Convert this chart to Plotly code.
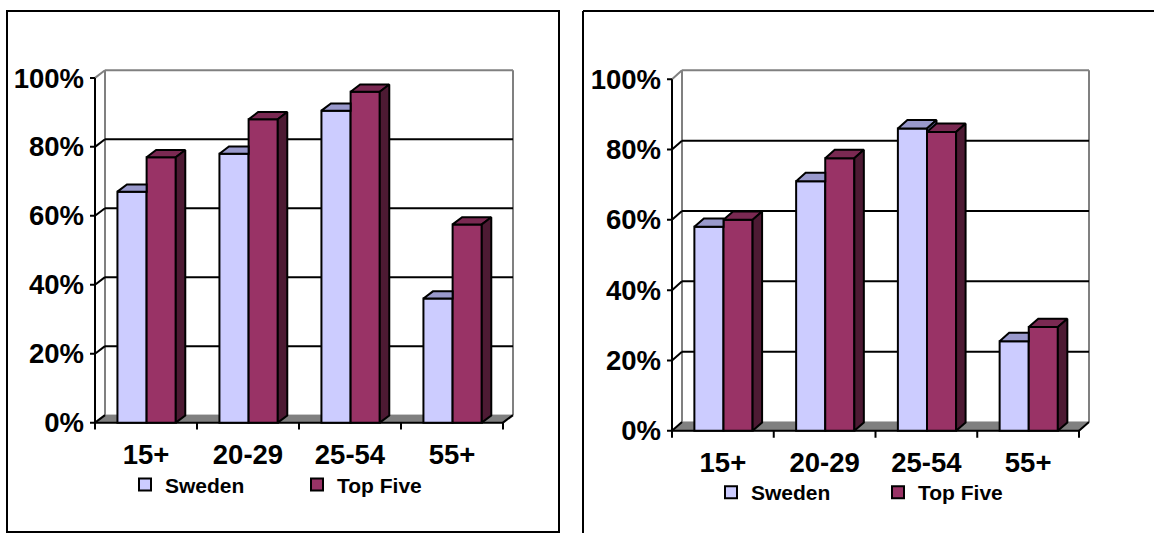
import plotly.graph_objects as go

# ---------------- data ----------------
categories = ["15+", "20-29", "25-54", "55+"]
series_names = ["Sweden", "Top Five"]
left_sweden = [0.67, 0.78, 0.905, 0.36]
left_topfive = [0.77, 0.88, 0.96, 0.575]
right_sweden = [0.58, 0.71, 0.86, 0.255]
right_topfive = [0.60, 0.775, 0.85, 0.295]
y_ticks = [0, 0.2, 0.4, 0.6, 0.8, 1.0]
y_tick_labels = ["0%", "20%", "40%", "60%", "80%", "100%"]

# ---------------- style ----------------
W, H = 1154, 537
FONT = "Liberation Sans, Arial, sans-serif"
TICK_SIZE = 27.5
SW_FRONT, SW_TOP, SW_SIDE = "#CCCCFF", "#9999CC", "#666699"
TF_FRONT, TF_TOP, TF_SIDE = "#993366", "#7A2952", "#4D1A33"
GRAY = "#808080"

panels = [
    dict(ax="", F=95, B=425, ux=102, uy=350, dx=10, dy=7.7,
         sw=left_sweden, tf=left_topfive, legend="legend", ly=488, lx=125, ew=127),
    dict(ax="2", F=672, B=433.3, ux=101.75, uy=357, dx=10, dy=9,
         sw=right_sweden, tf=right_topfive, legend="legend2", ly=496, lx=711, ew=122),
]

ML, MR, MT, MB = 8, 6, 4, 12
BAR_W = 0.286
BAR_OFF = -0.28
BAR_DEPTH = 0.95

fig = go.Figure()
shapes = []
layout_axes = {}
legends = {}

for p in panels:
    xa, ya = "x" + p["ax"], "y" + p["ax"]
    F, B, ux, uy, dx, dy = p["F"], p["B"], p["ux"], p["uy"], p["dx"], p["dy"]
    n = len(categories)
    ddx, ddy = dx / ux, dy / uy
    x_lo, x_hi = -0.5, n - 0.5

    # axes (only used for scaling and tick labels)
    xdom = [(F - ML) / W, (F + n * ux + dx + MR) / W]
    ydom = [1 - (B + MB) / H, 1 - (B - uy - dy - MT) / H]
    xkey = "xaxis" + p["ax"]
    ykey = "yaxis" + p["ax"]
    layout_axes[xkey] = dict(
        domain=xdom, range=[x_lo - ML / ux, x_hi + (dx + MR) / ux],
        showgrid=False, zeroline=False, showline=False, ticks="",
        tickvals=list(range(n)), ticktext=categories,
        tickfont=dict(family=FONT, size=TICK_SIZE, color="black", weight="bold"),
        ticklabelstandoff=1, anchor=ya, fixedrange=True,
    )
    layout_axes[ykey] = dict(
        domain=ydom, range=[-MB / uy, 1 + (dy + MT) / uy],
        showgrid=False, zeroline=False, showline=False, ticks="",
        tickvals=y_ticks, ticktext=y_tick_labels,
        tickfont=dict(family=FONT, size=TICK_SIZE, color="black", weight="bold"),
        ticklabelstandoff=2, anchor=xa, fixedrange=True,
    )

    def line(x0, y0, x1, y1, color="black", width=2, layer="below"):
        shapes.append(dict(type="line", xref=xa, yref=ya, x0=x0, y0=y0,
                           x1=x1, y1=y1, layer=layer,
                           line=dict(color=color, width=width)))

    # floor
    shapes.append(dict(
        type="path", xref=xa, yref=ya, layer="below",
        path=f"M{x_lo},0 L{x_hi},0 L{x_hi + ddx},{ddy} L{x_lo + ddx},{ddy} Z",
        fillcolor=GRAY, line=dict(color=GRAY, width=1)))
    # back wall outline (gray)
    line(x_lo + ddx, ddy, x_lo + ddx, 1 + ddy, GRAY)
    line(x_lo + ddx, 1 + ddy, x_hi + ddx, 1 + ddy, GRAY)
    line(x_hi + ddx, 1 + ddy, x_hi + ddx, ddy, GRAY)
    line(x_lo, 1, x_lo + ddx, 1 + ddy, GRAY)
    # gridlines on back wall
    for v in y_ticks[1:-1]:
        line(x_lo + ddx, v + ddy, x_hi + ddx, v + ddy)
        line(x_lo, v, x_lo + ddx, v + ddy)
    # front axes
    line(x_lo, 0, x_lo, 1)
    line(x_lo, 0, x_hi, 0)
    line(x_hi, 0, x_hi + ddx, ddy)
    line(x_lo, 0, x_lo + ddx, ddy)
    for v in y_ticks:
        line(x_lo - 5 / ux, v, x_lo, v)
    for k in range(n + 1):
        b = x_lo + k
        line(b, 0, b, -7 / uy)

    # bars: front faces
    xs = list(range(n))
    for name, vals, off, col in [("Sweden", p["sw"], BAR_OFF, SW_FRONT),
                                 ("Top Five", p["tf"], BAR_OFF + BAR_W, TF_FRONT)]:
        fig.add_trace(go.Bar(
            x=xs, y=vals, width=BAR_W, offset=off, name=name,
            marker=dict(color=col, line=dict(color="black", width=2)),
            xaxis=xa, yaxis=ya, legend=p["legend"], showlegend=True,
            hoverinfo="skip"))

    bdx, bdy = ddx * BAR_DEPTH, ddy * BAR_DEPTH

    def poly_trace(pts_list, color):
        X, Y = [], []
        for pts in pts_list:
            for (a, b) in pts:
                X.append(a); Y.append(b)
            X.append(pts[0][0]); Y.append(pts[0][1])
            X.append(None); Y.append(None)
        fig.add_trace(go.Scatter(
            x=X, y=Y, mode="lines", fill="toself", fillcolor=color,
            line=dict(color="black", width=2), xaxis=xa, yaxis=ya,
            showlegend=False, hoverinfo="skip"))

    sw_top, sw_side, tf_top, tf_side = [], [], [], []
    for i in range(n):
        vs, vt = p["sw"][i], p["tf"][i]
        s0, s1 = i + BAR_OFF, i + BAR_OFF + BAR_W
        t0, t1 = s1, s1 + BAR_W
        if vs <= vt:
            sw_top.append([(s0, vs), (s1, vs), (s1, vs + bdy), (s0 + bdx, vs + bdy)])
        else:
            sw_top.append([(s0, vs), (s1, vs), (s1 + bdx, vs + bdy), (s0 + bdx, vs + bdy)])
            sw_side.append([(s1, vt), (s1 + bdx, vt), (s1 + bdx, vs + bdy), (s1, vs)])
        tf_top.append([(t0, vt), (t1, vt), (t1 + bdx, vt + bdy), (t0 + bdx, vt + bdy)])
        tf_side.append([(t1, 0), (t1 + bdx, bdy), (t1 + bdx, vt + bdy), (t1, vt)])
    poly_trace(sw_top, SW_TOP)
    if sw_side:
        poly_trace(sw_side, SW_SIDE)
    poly_trace(tf_top, TF_TOP)
    poly_trace(tf_side, TF_SIDE)

    legends[p["legend"]] = dict(
        orientation="h", x=p["lx"] / W, y=1 - p["ly"] / H,
        xanchor="left", yanchor="middle", bgcolor="rgba(0,0,0,0)",
        borderwidth=0, entrywidth=p["ew"], entrywidthmode="pixels",
        font=dict(family=FONT, size=21, color="black", weight="bold"),
        traceorder="normal", itemclick=False, itemdoubleclick=False,
    )

# panel borders
def pbox(x0, y0, x1, y1):
    return dict(type="rect", xref="paper", yref="paper",
                x0=x0 / W, x1=x1 / W, y0=1 - y1 / H, y1=1 - y0 / H,
                line=dict(color="black", width=2), layer="above")

shapes.append(pbox(7, 7, 559, 536))
shapes.append(dict(type="line", xref="paper", yref="paper",
                   x0=583 / W, x1=583 / W, y0=0, y1=1 - 7 / H,
                   line=dict(color="black", width=2)))
shapes.append(dict(type="line", xref="paper", yref="paper",
                   x0=583 / W, x1=1, y0=1 - 7 / H, y1=1 - 7 / H,
                   line=dict(color="black", width=2)))

fig.update_layout(
    width=W, height=H, margin=dict(l=0, r=0, t=0, b=0),
    paper_bgcolor="white", plot_bgcolor="rgba(0,0,0,0)",
    barmode="overlay", shapes=shapes, showlegend=True,
    **layout_axes, **legends,
)

fig.write_html("out.html")
